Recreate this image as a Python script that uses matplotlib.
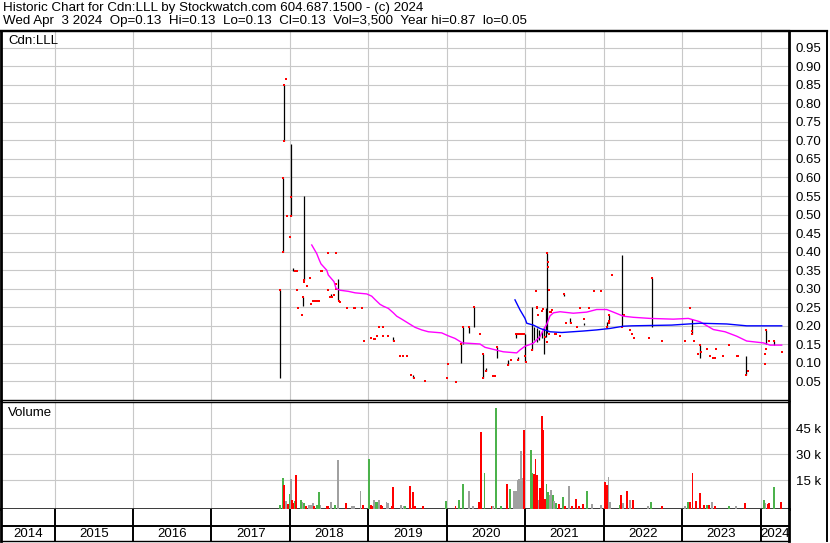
import matplotlib
matplotlib.use("Agg")
import matplotlib.pyplot as plt
from matplotlib.lines import Line2D

plt.rcParams['font.family'] = ['Liberation Sans', 'DejaVu Sans']

# --------------------------------------------
# Data (dates as decimal years)
# --------------------------------------------
TITLE_1 = "Historic Chart for Cdn:LLL by Stockwatch.com 604.687.1500 - (c) 2024"
TITLE_2 = "Wed Apr  3 2024  Op=0.13  Hi=0.13  Lo=0.13  Cl=0.13  Vol=3,500  Year hi=0.87  lo=0.05"

years = list(range(2014, 2025))
x_first, x_last = 2014.318, 2024.360

# daily high-low ranges
bar_dates = [2017.878, 2017.916, 2017.929, 2018.018, 2018.043, 2018.163, 2018.183,
             2018.527, 2018.617, 2019.319, 2019.572, 2020.176, 2020.202, 2020.286,
             2020.350, 2020.457, 2020.495, 2020.643, 2020.775, 2020.881, 2020.911,
             2021.000, 2021.089, 2021.111, 2021.145, 2021.178, 2021.216, 2021.242,
             2021.264, 2021.280, 2021.497, 2021.573, 2021.744, 2022.037, 2022.070,
             2022.228, 2022.610, 2023.120, 2023.230, 2023.812, 2024.063, 2024.173]
bar_high = [0.297, 0.598, 0.849, 0.690, 0.356, 0.278, 0.550,
            0.285, 0.327, 0.169, 0.067, 0.151, 0.198, 0.198,
            0.250, 0.124, 0.085, 0.144, 0.109, 0.180, 0.117,
            0.178, 0.250, 0.198, 0.193, 0.190, 0.187, 0.198,
            0.248, 0.397, 0.285, 0.221, 0.208, 0.211, 0.229,
            0.392, 0.330, 0.219, 0.149, 0.119, 0.190, 0.160]
bar_low = [0.060, 0.400, 0.698, 0.497, 0.348, 0.253, 0.323,
           0.277, 0.270, 0.160, 0.060, 0.099, 0.151, 0.180,
           0.198, 0.060, 0.078, 0.114, 0.094, 0.167, 0.108,
           0.103, 0.135, 0.162, 0.157, 0.162, 0.167, 0.124,
           0.170, 0.180, 0.280, 0.208, 0.203, 0.198, 0.208,
           0.198, 0.198, 0.177, 0.114, 0.067, 0.150, 0.148]

# closing prices
close_dates = [2017.878, 2017.916, 2017.916, 2017.929, 2017.929, 2017.950, 2017.959,
               2018.001, 2018.018, 2018.018, 2018.065, 2018.087, 2018.087, 2018.099,
               2018.154, 2018.163, 2018.176, 2018.183, 2018.218, 2018.256, 2018.269,
               2018.294, 2018.320, 2018.345, 2018.371, 2018.392, 2018.409, 2018.485,
               2018.485, 2018.511, 2018.536, 2018.562, 2018.587, 2018.591, 2018.591,
               2018.626, 2018.642, 2018.728, 2018.817, 2018.830, 2018.919, 2018.940,
               2019.030, 2019.072, 2019.084, 2019.110, 2019.135, 2019.186, 2019.186,
               2019.254, 2019.327, 2019.403, 2019.445, 2019.492, 2019.543, 2019.581,
               2019.718, 2019.998, 2020.011, 2020.113, 2020.176, 2020.202, 2020.286,
               2020.350, 2020.422, 2020.457, 2020.457, 2020.495, 2020.592, 2020.614,
               2020.643, 2020.775, 2020.817, 2020.881, 2020.907, 2020.932, 2020.958,
               2020.983, 2020.911, 2020.992, 2021.009, 2021.089, 2021.136, 2021.145,
               2021.150, 2021.162, 2021.216, 2021.225, 2021.255, 2021.272, 2021.280,
               2021.285, 2021.293, 2021.306, 2021.298, 2021.315, 2021.331, 2021.340,
               2021.374, 2021.380, 2021.387, 2021.442, 2021.497, 2021.518, 2021.582,
               2021.655, 2021.697, 2021.748, 2021.812, 2021.875, 2021.964, 2022.037,
               2022.070, 2022.070, 2022.065, 2022.105, 2022.228, 2022.257, 2022.334,
               2022.359, 2022.385, 2022.580, 2022.610, 2022.742, 2023.035, 2023.099,
               2023.120, 2023.125, 2023.150, 2023.197, 2023.230, 2023.235, 2023.311,
               2023.353, 2023.396, 2023.413, 2023.430, 2023.523, 2023.596, 2023.698,
               2023.710, 2023.812, 2023.834, 2024.051, 2024.051, 2024.063, 2024.063,
               2024.102, 2024.173, 2024.271]
close_price = [0.297, 0.598, 0.400, 0.849, 0.698, 0.865, 0.497,
               0.440, 0.548, 0.497, 0.348, 0.348, 0.297, 0.249,
               0.229, 0.278, 0.319, 0.323, 0.307, 0.329, 0.260,
               0.268, 0.268, 0.268, 0.268, 0.348, 0.348, 0.397,
               0.297, 0.278, 0.278, 0.283, 0.397, 0.313, 0.300,
               0.268, 0.264, 0.249, 0.249, 0.249, 0.249, 0.160,
               0.168, 0.165, 0.165, 0.173, 0.198, 0.198, 0.173,
               0.173, 0.160, 0.119, 0.119, 0.119, 0.068, 0.060,
               0.050, 0.060, 0.098, 0.049, 0.151, 0.198, 0.198,
               0.250, 0.178, 0.124, 0.060, 0.078, 0.065, 0.065,
               0.144, 0.094, 0.108, 0.178, 0.178, 0.178, 0.178,
               0.178, 0.108, 0.119, 0.103, 0.135, 0.294, 0.248,
               0.250, 0.229, 0.240, 0.245, 0.170, 0.157, 0.397,
               0.373, 0.359, 0.296, 0.178, 0.236, 0.238, 0.243,
               0.177, 0.177, 0.177, 0.172, 0.285, 0.208, 0.208,
               0.198, 0.249, 0.219, 0.249, 0.294, 0.294, 0.198,
               0.229, 0.208, 0.213, 0.338, 0.198, 0.229, 0.189,
               0.178, 0.167, 0.168, 0.330, 0.160, 0.160, 0.248,
               0.177, 0.185, 0.160, 0.124, 0.149, 0.129, 0.138,
               0.119, 0.114, 0.114, 0.138, 0.119, 0.149, 0.119,
               0.119, 0.067, 0.079, 0.124, 0.097, 0.190, 0.138,
               0.160, 0.160, 0.129]

# moving averages
ma_short_dates = [2018.278, 2018.341, 2018.375, 2018.396, 2018.469, 2018.489, 2018.562,
                  2018.587, 2018.638, 2018.744, 2018.830, 2018.979, 2019.042, 2019.084,
                  2019.148, 2019.190, 2019.254, 2019.318, 2019.361, 2019.425, 2019.509,
                  2019.594, 2019.679, 2019.764, 2019.934, 2020.018, 2020.104, 2020.197,
                  2020.422, 2020.486, 2020.719, 2020.890, 2020.932, 2020.996, 2021.102,
                  2021.187, 2021.229, 2021.272, 2021.315, 2021.357, 2021.442, 2021.611,
                  2021.782, 2021.909, 2022.037, 2022.121, 2022.249, 2022.376, 2022.589,
                  2022.886, 2023.077, 2023.226, 2023.396, 2023.545, 2023.694, 2023.821,
                  2024.033, 2024.118, 2024.267]
ma_short = [0.418, 0.395, 0.377, 0.367, 0.350, 0.337, 0.319,
            0.301, 0.296, 0.293, 0.289, 0.286, 0.280, 0.271,
            0.258, 0.253, 0.247, 0.235, 0.226, 0.218, 0.207,
            0.196, 0.189, 0.184, 0.181, 0.173, 0.166, 0.154,
            0.151, 0.142, 0.130, 0.127, 0.135, 0.145, 0.153,
            0.171, 0.189, 0.204, 0.227, 0.235, 0.238, 0.234,
            0.237, 0.244, 0.244, 0.237, 0.226, 0.223, 0.220,
            0.218, 0.220, 0.211, 0.190, 0.184, 0.172, 0.159,
            0.154, 0.148, 0.148]

ma_long_dates = [2020.868, 2020.932, 2020.996, 2021.018, 2021.102, 2021.187, 2021.315,
                 2021.464, 2021.739, 2021.910, 2022.079, 2022.249, 2022.356, 2022.865,
                 2023.226, 2023.566, 2023.821, 2024.267]
ma_long = [0.270, 0.243, 0.220, 0.207, 0.202, 0.193, 0.184,
           0.182, 0.186, 0.189, 0.193, 0.199, 0.200, 0.202,
           0.207, 0.205, 0.200, 0.200]

# volume (thousands of shares); u=up day, d=down day, n=unchanged
vol_dates = [2017.87, 2017.91, 2017.93, 2017.95, 2017.98, 2018.00, 2018.01, 2018.03,
             2018.04, 2018.06, 2018.08, 2018.14, 2018.16, 2018.18, 2018.20, 2018.24,
             2018.27, 2018.29, 2018.31, 2018.34, 2018.35, 2018.37, 2018.39, 2018.47,
             2018.49, 2018.52, 2018.58, 2018.61, 2018.71, 2018.79, 2018.82, 2018.90,
             2018.93, 2019.01, 2019.03, 2019.05, 2019.07, 2019.09, 2019.11, 2019.13,
             2019.16, 2019.18, 2019.23, 2019.25, 2019.30, 2019.31, 2019.32, 2019.42,
             2019.45, 2019.47, 2019.53, 2019.57, 2019.59, 2019.70, 2019.99, 2020.11,
             2020.16, 2020.20, 2020.28, 2020.33, 2020.41, 2020.43, 2020.48, 2020.57,
             2020.59, 2020.63, 2020.69, 2020.77, 2020.81, 2020.86, 2020.88, 2020.90,
             2020.92, 2020.94, 2020.96, 2020.98, 2020.99, 2021.07, 2021.09, 2021.11,
             2021.13, 2021.15, 2021.17, 2021.19, 2021.21, 2021.23, 2021.25, 2021.27,
             2021.29, 2021.31, 2021.33, 2021.35, 2021.36, 2021.39, 2021.43, 2021.48,
             2021.50, 2021.56, 2021.59, 2021.64, 2021.68, 2021.73, 2021.79, 2021.85,
             2021.96, 2022.02, 2022.04, 2022.06, 2022.08, 2022.20, 2022.22, 2022.24,
             2022.30, 2022.33, 2022.37, 2022.56, 2022.60, 2022.74, 2023.03, 2023.07,
             2023.10, 2023.13, 2023.18, 2023.23, 2023.28, 2023.32, 2023.34, 2023.38,
             2023.42, 2023.59, 2023.69, 2023.80, 2024.04, 2024.06, 2024.09, 2024.11,
             2024.17, 2024.26]
vol_k = [0.5, 16.5, 12.3, 3.0, 1.0, 7.0, 15.8, 3.7,
         1.7, 3.0, 18.0, 3.7, 2.3, 1.7, 0.4, 0.6,
         0.8, 1.7, 0.3, 0.3, 0.8, 8.0, 0.8, 0.4,
         0.4, 2.7, 0.8, 26.7, 1.9, 0.3, 0.2, 8.8,
         0.8, 27.3, 0.6, 0.3, 3.5, 2.7, 2.3, 3.7,
         0.8, 0.3, 2.3, 1.7, 0.2, 11.2, 0.3, 0.8,
         0.3, 0.3, 11.9, 8.0, 0.3, 0.4, 3.0, 0.4,
         3.5, 13.0, 8.8, 0.3, 2.3, 43.0, 19.0, 0.4,
         0.3, 57.0, 0.3, 13.0, 9.8, 8.8, 8.8, 15.0,
         15.8, 32.0, 16.5, 44.0, 1.7, 32.5, 19.0, 18.7,
         27.0, 18.0, 3.7, 10.4, 52.0, 44.0, 4.2, 13.0,
         8.5, 6.5, 9.2, 6.5, 3.0, 1.7, 1.0, 5.6,
         0.3, 11.9, 0.2, 4.4, 0.2, 1.5, 8.8, 1.2,
         0.8, 14.2, 12.3, 17.0, 2.7, 0.8, 6.2, 1.7,
         8.8, 3.7, 3.8, 0.2, 2.7, 0.4, 0.2, 2.3,
         2.7, 19.0, 3.0, 7.7, 0.8, 0.8, 0.8, 2.3,
         0.3, 0.3, 0.4, 1.9, 3.7, 1.7, 1.2, 2.1,
         11.2, 2.5]
vol_dir = ("uudndund" "dudunudn" "nndduund" "dnundnnn"
           "duddnuun" "ddnndddn" "nuddddud" "uunnddud"
           "nuudunnn" "nnndduud" "ddnddddu" "unnunudu"
           "dnddddun" "nddnnudn" "dndnudnu" "dddddudn"
           "dundundd" "ud")

price_ticks = [0.05, 0.10, 0.15, 0.20, 0.25, 0.30, 0.35, 0.40, 0.45, 0.50,
               0.55, 0.60, 0.65, 0.70, 0.75, 0.80, 0.85, 0.90, 0.95]
vol_ticks = [15000, 30000, 45000]
vol_tick_labels = ["15 k", "30 k", "45 k"]

# --------------------------------------------
# Layout (pixel based, 830 x 543)
# --------------------------------------------
W, H = 830, 543
GRID = "#c8c8c8"
DIR_COLORS = {"u": "#4cb24c", "d": "#ff0000", "n": "#a0a0a0"}
FS = 9.5


def box(left, top, right, bottom):
    return [left / W, 1 - bottom / H, (right - left) / W, (bottom - top) / H]


fig = plt.figure(figsize=(W / 100, H / 100), dpi=100)
ax_p = fig.add_axes(box(1, 31, 789, 400))
ax_v = fig.add_axes(box(1, 402, 789, 509))
ax_y = fig.add_axes(box(1, 509, 789, 541))

# price panel
ax_p.set_xlim(x_first, x_last)
ax_p.set_ylim(0, 0.995)
ax_p.set_xticks(years[1:])
ax_p.set_xticklabels([])
ax_p.set_yticks(price_ticks)
ax_p.set_yticklabels([f"{t:.2f}" for t in price_ticks])
ax_p.yaxis.tick_right()
ax_p.tick_params(length=0, labelsize=FS, pad=5)
ax_p.grid(True, color=GRID, lw=0.8)
ax_p.set_axisbelow(True)

ax_p.vlines(bar_dates, bar_low, bar_high, color="black", lw=0.9, zorder=3)
ax_p.plot(close_dates, close_price, "s", color="red", ms=2.1, mew=0,
          antialiased=False, zorder=4)
ax_p.plot(ma_short_dates, ma_short, color="#ff00ff", lw=1.0, zorder=5)
ax_p.plot(ma_long_dates, ma_long, color="#0000ff", lw=1.0, zorder=5)

# volume panel
v_lo, v_hi = -1600, 60200
ax_v.set_xlim(x_first, x_last)
ax_v.set_ylim(v_lo, v_hi)
ax_v.set_xticks(years[1:])
ax_v.set_xticklabels([])
ax_v.set_yticks(vol_ticks)
ax_v.set_yticklabels(vol_tick_labels)
ax_v.yaxis.tick_right()
ax_v.tick_params(length=0, labelsize=FS, pad=5)
ax_v.grid(True, color=GRID, lw=0.8)
ax_v.set_axisbelow(True)
ax_v.bar(vol_dates, [v * 1000 - v_lo for v in vol_k], bottom=v_lo, width=0.024,
         color=[DIR_COLORS[c] for c in vol_dir], zorder=3)

# year strip
ax_y.set_xlim(x_first, x_last)
ax_y.set_ylim(0, 32)
ax_y.set_xticks([])
ax_y.set_yticks([])
for y in years[1:]:
    ax_y.axvline(y, color="black", lw=1.4)
ax_y.axhline(15, color="black", lw=1.4)
for y in years:
    lo, hi = max(y, x_first), min(y + 1, x_last)
    ax_y.text((lo + hi) / 2, 7.3, str(y), ha="center", va="center", fontsize=FS)

for ax in (ax_p, ax_v, ax_y):
    for s in ax.spines.values():
        s.set_color("black")
        s.set_linewidth(1.0)
    ax.spines["left"].set_linewidth(2.0)
    ax.spines["right"].set_linewidth(2.0)
ax_p.spines["top"].set_linewidth(1.6)
ax_v.spines["bottom"].set_linewidth(1.8)
ax_y.spines["top"].set_visible(False)

# outer frame on the right
fig.add_artist(Line2D([0, 827 / W], [1 - 31 / H, 1 - 31 / H], color="black", lw=1.6))
fig.add_artist(Line2D([827 / W, 827 / W], [1 - 31 / H, 1 - 541 / H], color="black", lw=1.4))

# texts
fig.text(3 / W, 1 - 8 / H, TITLE_1, va="center", ha="left", fontsize=9.6)
fig.text(3 / W, 1 - 21 / H, TITLE_2, va="center", ha="left", fontsize=9.6)
fig.text(8 / W, 1 - 41 / H, "Cdn:LLL", va="center", ha="left", fontsize=FS)
fig.text(8 / W, 1 - 413 / H, "Volume", va="center", ha="left", fontsize=FS)

fig.savefig("out.png", dpi=100)
